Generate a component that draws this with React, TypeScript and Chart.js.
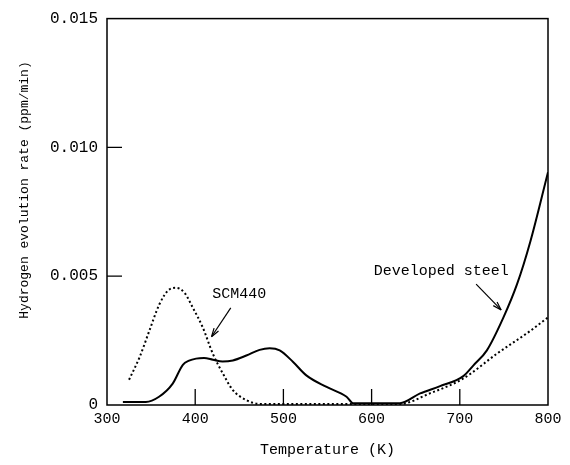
import React, { useEffect, useRef } from "react";
import { Chart, registerables } from "chart.js";

Chart.register(...registerables);

// Developed steel (solid)
const steelTemps = [318, 344, 359, 374.5, 386, 393, 401, 410, 420, 431, 442.7, 458, 473, 484.4, 495.8, 511, 526, 549, 571.6, 579, 632, 655, 677.6, 704, 715.5, 730.7, 749.5, 764.8, 780, 800];
const steelRates = [0.00012, 0.00012, 0.00032, 0.00083, 0.00156, 0.00172, 0.0018, 0.00182, 0.00176, 0.00169, 0.00173, 0.00192, 0.00214, 0.0022, 0.00212, 0.00167, 0.00115, 0.0007, 0.00032, 0.00007, 0.00007, 0.00045, 0.00073, 0.00112, 0.00154, 0.00212, 0.0034, 0.00468, 0.00635, 0.00904];

// SCM440 (dotted)
const scmTemps = [325, 337, 348, 359.4, 370.8, 378.4, 387.8, 397.3, 408.6, 420, 431.4, 442.7, 458, 473, 632, 666, 704, 742, 780, 800];
const scmRates = [0.00098, 0.00186, 0.00288, 0.00391, 0.00449, 0.00455, 0.00436, 0.00378, 0.00301, 0.00199, 0.00122, 0.00058, 0.00019, 0.00004, 0.00004, 0.00045, 0.00103, 0.00199, 0.00288, 0.0034];

const xTicks = [300, 400, 500, 600, 700, 800];
const yTicks = [0, 0.005, 0.01, 0.015];
const xInnerTicks = [400, 500, 600, 700];
const yInnerTicks = [0.005, 0.01];

const xTitle = "Temperature (K)";
const yTitle = "Hydrogen evolution rate (ppm/min)";

const annScm = { label: "SCM440", tx: 450, ty: 0.00431, x1: 440.3, y1: 0.00377, x2: 418.5, y2: 0.00265 };
const annSteel = { label: "Developed steel", tx: 679, ty: 0.00519, x1: 718.5, y1: 0.00469, x2: 746.9, y2: 0.00369 };

const FONT = "'Liberation Mono', monospace";

export default function App() {
  const ref = useRef<HTMLCanvasElement>(null);
  useEffect(() => {
    document.body.style.margin = "0";
    const canvas = ref.current!;
    const framePlugin = {
      id: "frame",
      afterDraw(chart: any) {
        const { ctx, chartArea: a, scales } = chart;
        const xs = scales.x, ys = scales.y;
        ctx.save();
        ctx.strokeStyle = "#000";
        ctx.lineWidth = 1.5;
        ctx.strokeRect(a.left, a.top, a.right - a.left, a.bottom - a.top);
        ctx.lineWidth = 1.3;
        ctx.beginPath();
        for (const v of xInnerTicks) {
          const px = xs.getPixelForValue(v);
          ctx.moveTo(px, a.bottom);
          ctx.lineTo(px, a.bottom - 16);
        }
        for (const v of yInnerTicks) {
          const py = ys.getPixelForValue(v);
          ctx.moveTo(a.left, py);
          ctx.lineTo(a.left + 15, py);
        }
        ctx.stroke();
        ctx.fillStyle = "#000";
        ctx.font = `15px ${FONT}`;
        ctx.textAlign = "center";
        ctx.textBaseline = "middle";
        for (const an of [annScm, annSteel]) {
          ctx.fillText(an.label, xs.getPixelForValue(an.tx), ys.getPixelForValue(an.ty));
          const x1 = xs.getPixelForValue(an.x1), y1 = ys.getPixelForValue(an.y1);
          const x2 = xs.getPixelForValue(an.x2), y2 = ys.getPixelForValue(an.y2);
          ctx.lineWidth = 1.2;
          ctx.beginPath();
          ctx.moveTo(x1, y1);
          ctx.lineTo(x2, y2);
          ctx.stroke();
          const ang = Math.atan2(y2 - y1, x2 - x1);
          const L = 9, w = 0.3;
          ctx.beginPath();
          ctx.moveTo(x2, y2);
          ctx.lineTo(x2 - L * Math.cos(ang - w), y2 - L * Math.sin(ang - w));
          ctx.moveTo(x2, y2);
          ctx.lineTo(x2 - L * Math.cos(ang + w), y2 - L * Math.sin(ang + w));
          ctx.stroke();
        }
        ctx.save();
        ctx.translate(25, 190);
        ctx.rotate(-Math.PI / 2);
        ctx.font = `13px ${FONT}`;
        ctx.fillText(yTitle, 0, 0);
        ctx.restore();
        ctx.restore();
      },
    };
    const chart = new Chart(canvas, {
      type: "line",
      data: {
        datasets: [
          {
            label: "Developed steel",
            data: steelTemps.map((t, i) => ({ x: t, y: steelRates[i] })),
            borderColor: "#000",
            borderWidth: 2,
            pointRadius: 0,
            tension: 0.4,
            cubicInterpolationMode: "monotone",
            fill: false,
          },
          {
            label: "SCM440",
            data: scmTemps.map((t, i) => ({ x: t, y: scmRates[i] })),
            borderColor: "#000",
            borderWidth: 2,
            borderDash: [2, 2.5],
            pointRadius: 0,
            tension: 0.4,
            cubicInterpolationMode: "monotone",
            fill: false,
          },
        ],
      },
      options: {
        animation: false,
        responsive: false,
        layout: { padding: { top: 15, right: 22, left: 0, bottom: 0 } },
        plugins: { legend: { display: false }, tooltip: { enabled: false } },
        scales: {
          x: {
            type: "linear",
            min: 300,
            max: 800,
            afterBuildTicks(scale: any) {
              scale.ticks = xTicks.map((v) => ({ value: v }));
            },
            afterFit(scale: any) {
              scale.height = 60;
            },
            grid: { display: false, drawTicks: false },
            border: { display: false },
            ticks: {
              color: "#000",
              font: { family: FONT, size: 15 },
              padding: 5,
              maxRotation: 0,
              autoSkip: false,
              callback: (v: any) => String(v),
            },
            title: {
              display: true,
              text: xTitle,
              color: "#000",
              font: { family: FONT, size: 15 },
              padding: { top: 0, bottom: 6 },
            },
          },
          y: {
            type: "linear",
            min: 0,
            max: 0.015,
            afterBuildTicks(scale: any) {
              scale.ticks = yTicks.map((v) => ({ value: v }));
            },
            afterFit(scale: any) {
              scale.width = 107;
            },
            grid: { display: false, drawTicks: false },
            border: { display: false },
            ticks: {
              color: "#000",
              font: { family: FONT, size: 16 },
              padding: 9,
              autoSkip: false,
              callback: (v: any) => (v === 0 ? "0" : Number(v).toFixed(3)),
            },
          },
        },
      },
      plugins: [framePlugin],
    });
    return () => chart.destroy();
  }, []);
  return <canvas ref={ref} width={570} height={465} style={{ display: "block" }} />;
}
